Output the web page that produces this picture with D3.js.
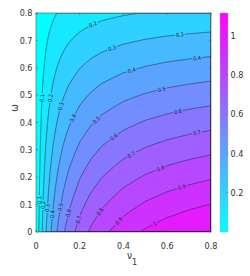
<!DOCTYPE html>
<html><head><meta charset="utf-8">
<script src="https://cdn.jsdelivr.net/npm/d3@7"></script>
<style>
html,body{margin:0;padding:0;background:#fff;}
svg{display:block;}
text{font-family:"Liberation Sans Narrow","DejaVu Sans Condensed","Liberation Sans",Arial,sans-serif;}
</style></head><body>
<svg id="chart" width="250" height="276"></svg>
<script>
// ---- data ----
const nuGrid = [0, 0.005, 0.01, 0.02, 0.03, 0.045, 0.06, 0.08, 0.1, 0.125, 0.15, 0.2, 0.25, 0.3, 0.4, 0.5, 0.6, 0.7, 0.8];
const omegaGrid = [0, 0.1, 0.2, 0.3, 0.4, 0.5, 0.6, 0.7, 0.8];
const zRow0 = [0, .041, .079, .149, .212, .295, .366, .447, .515, .588, .648, .744, .816, .873, .955, 1.013, 1.055, 1.088, 1.114];
const zRow1 = [0, .037, .071, .134, .191, .266, .329, .402, .464, .529, .583, .670, .734, .786, .860, .912, .950, .979, 1.003];
const zRow2 = [0, .033, .063, .119, .170, .236, .293, .358, .412, .470, .518, .595, .653, .698, .764, .810, .844, .870, .891];
const zRow3 = [0, .029, .055, .104, .148, .207, .256, .313, .361, .412, .454, .521, .571, .611, .669, .709, .739, .762, .780];
const zRow4 = [0, .025, .047, .089, .127, .177, .220, .268, .309, .353, .389, .446, .490, .524, .573, .608, .633, .653, .668];
const zRow5 = [0, .021, .040, .075, .106, .148, .183, .224, .258, .294, .324, .372, .408, .437, .478, .507, .528, .544, .557];
const zRow6 = [0, .016, .032, .060, .085, .118, .146, .179, .206, .235, .259, .298, .326, .349, .382, .405, .422, .435, .446];
const zRow7 = [0, .012, .024, .045, .064, .089, .110, .134, .155, .176, .194, .223, .245, .262, .287, .304, .317, .326, .334];
const zRow8 = [0, .008, .016, .030, .042, .059, .073, .089, .103, .118, .130, .149, .163, .175, .191, .203, .211, .218, .223];
const zRows = [zRow0, zRow1, zRow2, zRow3, zRow4, zRow5, zRow6, zRow7, zRow8];
const levels = [0.1, 0.2, 0.3, 0.4, 0.5, 0.6, 0.7, 0.8, 0.9, 1.0, 1.1];
const xTicks = [0, 0.2, 0.4, 0.6, 0.8];
const yTicks = [0, 0.1, 0.2, 0.3, 0.4, 0.5, 0.6, 0.7, 0.8];
const cbTicks = [0.2, 0.4, 0.6, 0.8, 1];
const labelLevel = [0.1, 0.2, 0.3, 0.4, 0.5, 0.6, 0.2, 0.3, 0.4, 0.5, 0.6, 0.3, 0.4, 0.7, 0.7, 0.8, 0.9, 0.8, 0.9, 1, 0.1, 0.2, 0.3, 0.4, 0.5, 0.6, 0.7];
const labelNu =    [0.027, 0.064, 0.119, 0.169, 0.279, 0.357, 0.261, 0.347, 0.439, 0.576, 0.649, 0.658, 0.736, 0.736, 0.439, 0.571, 0.667, 0.293, 0.375, 0.544, 0.014, 0.032, 0.050, 0.069, 0.114, 0.151, 0.197];
const labelOmega = [0.49, 0.49, 0.457, 0.416, 0.405, 0.347, 0.756, 0.672, 0.584, 0.515, 0.438, 0.716, 0.632, 0.362, 0.274, 0.226, 0.164, 0.073, 0.044, 0.029, 0.117, 0.099, 0.088, 0.066, 0.091, 0.069, 0.044];

// ---- layout ----
const L = 36, T = 13, W = 175, H = 219;
const cbX = 220, cbW = 8;
const svg = d3.select("#chart");
const x = d3.scaleLinear().domain([0, 0.8]).range([L, L + W]);
const y = d3.scaleLinear().domain([0, 0.8]).range([T + H, T]);
const zMax = d3.max(zRows, r => d3.max(r)), zMin = 0;
const cool = t => d3.rgb(255 * t, 255 * (1 - t), 255);
const col = v => cool(Math.max(0, Math.min(1, (v - zMin) / (zMax - zMin))));

function sample(nu, om) {
  const i = Math.max(0, Math.min(nuGrid.length - 2, d3.bisectRight(nuGrid, nu) - 1));
  const j = Math.max(0, Math.min(omegaGrid.length - 2, d3.bisectRight(omegaGrid, om) - 1));
  const tx = (nu - nuGrid[i]) / (nuGrid[i + 1] - nuGrid[i]);
  const ty = (om - omegaGrid[j]) / (omegaGrid[j + 1] - omegaGrid[j]);
  const a = zRows[j][i], b = zRows[j][i + 1], c = zRows[j + 1][i], d = zRows[j + 1][i + 1];
  return (a * (1 - tx) + b * tx) * (1 - ty) + (c * (1 - tx) + d * tx) * ty;
}

// fine rendering grid
const nx = 350, ny = 438;
const fine = new Float64Array(nx * ny);
for (let r = 0; r < ny; r++) {
  const om = 0.8 * (1 - (r + 0.5) / ny);
  for (let c = 0; c < nx; c++) fine[r * nx + c] = sample(0.8 * (c + 0.5) / nx, om);
}
const contours = d3.contours().size([nx, ny]).thresholds(levels)(fine);
const path = d3.geoPath(d3.geoTransform({
  point(px, py) { this.stream.point(L + px / nx * W, T + py / ny * H); }
}));

const defs = svg.append("defs");
defs.append("clipPath").attr("id", "plotclip").append("rect")
  .attr("x", L).attr("y", T).attr("width", W).attr("height", H);

const plot = svg.append("g").attr("clip-path", "url(#plotclip)");
plot.append("rect").attr("x", L).attr("y", T).attr("width", W).attr("height", H).attr("fill", col(zMin));
plot.append("g").selectAll("path").data(contours).join("path")
  .attr("d", path).attr("fill", d => col(d.value)).attr("stroke", "none");

// labels: snap to contour & rotation
const labels = labelLevel.map((lv, k) => {
  let nu = labelNu[k], om = labelOmega[k];
  const h = 1e-4;
  let fn = 0, fo = 0;
  for (let it = 0; it < 8; it++) {
    const f = sample(nu, om);
    fn = (sample(nu + h, om) - sample(nu - h, om)) / (2 * h);
    fo = (sample(nu, om + h) - sample(nu, om - h)) / (2 * h);
    const g2 = fn * fn + fo * fo;
    nu += (lv - f) * fn / g2; om += (lv - f) * fo / g2;
  }
  const gx = fn / (W / 0.8), gy = -fo / (H / 0.8);
  let ang = Math.atan2(gx, -gy) * 180 / Math.PI;
  if (ang > 90) ang -= 180; if (ang < -90) ang += 180;
  return { lv, px: x(nu), py: y(om), ang, text: lv === 1 ? "1" : d3.format(".1f")(lv) };
});

const mask = defs.append("mask").attr("id", "gaps").attr("maskUnits", "userSpaceOnUse")
  .attr("x", 0).attr("y", 0).attr("width", 250).attr("height", 276);
mask.append("rect").attr("x", 0).attr("y", 0).attr("width", 250).attr("height", 276).attr("fill", "white");

const lineG = plot.append("g").attr("mask", "url(#gaps)");
lineG.selectAll("path").data(contours.filter(d => d.value <= 1.0)).join("path")
  .attr("d", path).attr("fill", "none").attr("stroke", "#1a1a1a").attr("stroke-width", 0.5);

const labG = plot.append("g");
labels.forEach(lb => {
  const t = labG.append("text")
    .attr("transform", `translate(${lb.px},${lb.py}) rotate(${lb.ang})`)
    .attr("text-anchor", "middle").attr("dy", "0.35em")
    .attr("font-size", 5.5).attr("fill", "#222").text(lb.text);
  const len = t.node().getComputedTextLength();
  mask.append("rect").attr("x", -len / 2 - 1).attr("y", -2.8).attr("width", len + 2).attr("height", 5.6)
    .attr("fill", "black").attr("transform", `translate(${lb.px},${lb.py}) rotate(${lb.ang})`);
});

// box and ticks
const axc = "#555";
svg.append("rect").attr("x", L).attr("y", T).attr("width", W).attr("height", H)
  .attr("fill", "none").attr("stroke", axc).attr("stroke-width", 0.6);
const tk = 2;
xTicks.forEach(v => {
  svg.append("line").attr("x1", x(v)).attr("x2", x(v)).attr("y1", T + H).attr("y2", T + H - tk).attr("stroke", axc).attr("stroke-width", 0.6);
  svg.append("line").attr("x1", x(v)).attr("x2", x(v)).attr("y1", T).attr("y2", T + tk).attr("stroke", axc).attr("stroke-width", 0.6);
  svg.append("text").attr("x", x(v)).attr("y", 248.5).attr("text-anchor", "middle")
    .attr("font-size", 9).attr("fill", "#333").text(v === 0 ? "0" : d3.format(".1f")(v));
});
yTicks.forEach(v => {
  svg.append("line").attr("x1", L).attr("x2", L + tk).attr("y1", y(v)).attr("y2", y(v)).attr("stroke", axc).attr("stroke-width", 0.6);
  svg.append("line").attr("x1", L + W).attr("x2", L + W - tk).attr("y1", y(v)).attr("y2", y(v)).attr("stroke", axc).attr("stroke-width", 0.6);
  svg.append("text").attr("x", 32.5).attr("y", y(v)).attr("dy", "0.35em").attr("text-anchor", "end")
    .attr("font-size", 9).attr("fill", "#333").text(v === 0 ? "0" : d3.format(".1f")(v));
});

// axis labels
const xl = svg.append("text").attr("x", 127).attr("y", 258.5).attr("font-size", 10).attr("fill", "#333");
xl.append("tspan").text("ν");
xl.append("tspan").attr("dy", 6).attr("font-size", 9).text("1");
svg.append("text").attr("transform", "translate(17.5,108) rotate(-90)").attr("text-anchor", "middle")
  .attr("font-size", 10).attr("fill", "#333").text("ω");

// colorbar
const cy = d3.scaleLinear().domain([zMin, zMax]).range([T + H, T]);
const grad = defs.append("linearGradient").attr("id", "cbgrad").attr("x1", 0).attr("y1", 1).attr("x2", 0).attr("y2", 0);
d3.range(0, 1.0001, 0.1).forEach(t => grad.append("stop").attr("offset", t).attr("stop-color", cool(t)));
svg.append("rect").attr("x", cbX).attr("y", T).attr("width", cbW).attr("height", H).attr("fill", "url(#cbgrad)")
  .attr("stroke", "#bbb").attr("stroke-width", 0.4);
cbTicks.forEach(v => {
  svg.append("line").attr("x1", cbX + cbW).attr("x2", cbX + cbW - 1.5).attr("y1", cy(v)).attr("y2", cy(v)).attr("stroke", axc).attr("stroke-width", 0.5);
  svg.append("text").attr("x", cbX + cbW + 2.5).attr("y", cy(v)).attr("dy", "0.35em")
    .attr("font-size", 9).attr("fill", "#333").text(v === 1 ? "1" : d3.format(".1f")(v));
});
</script>
</body></html>
